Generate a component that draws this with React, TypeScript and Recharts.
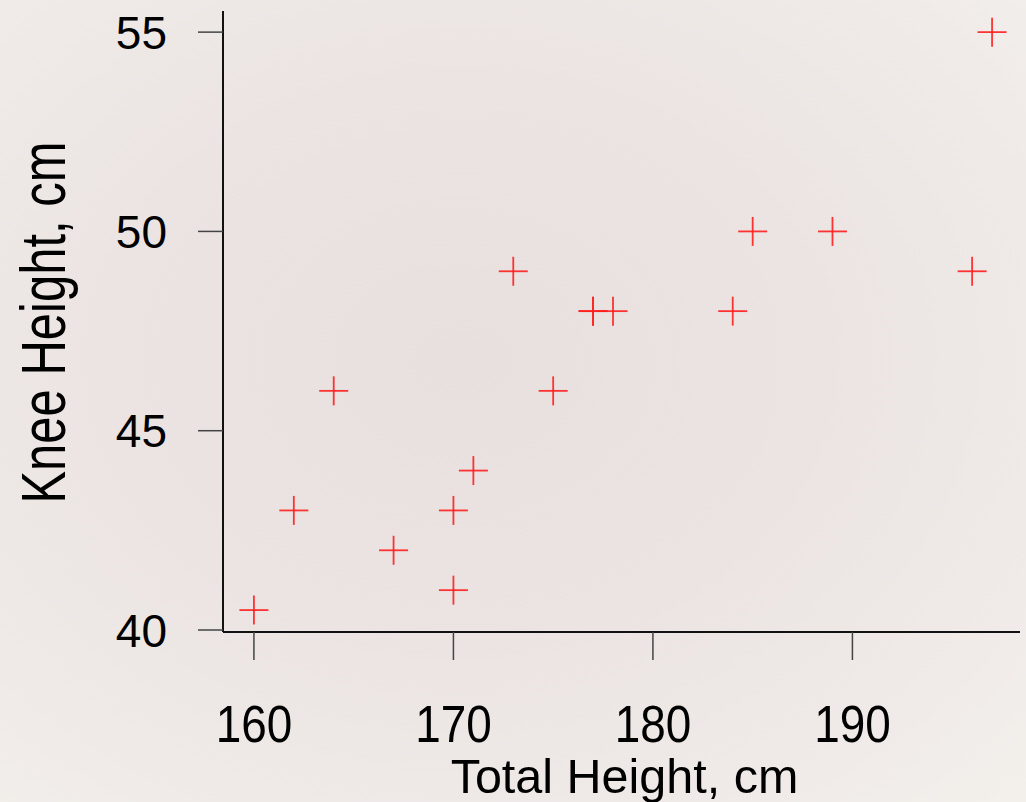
import { ScatterChart, Scatter, XAxis, YAxis } from "recharts";

// total height (cm) and knee height (cm)
const totalHeight = [160, 162, 164, 167, 170, 170, 171, 173, 175, 177, 177, 178, 184, 185, 189, 196, 197];
const kneeHeight = [40.5, 43, 46, 42, 43, 41, 44, 49, 46, 48, 48, 48, 48, 50, 50, 49, 55];

const xTicks = [160, 170, 180, 190];
const yTicks = [40, 45, 50, 55];

const points = totalHeight.map((h, i) => ({ total: h, knee: kneeHeight[i] }));

const FONT = "'Liberation Sans', Arial, Helvetica, sans-serif";

const Plus = (props: any) => {
  const { cx, cy } = props;
  const r = 14.5;
  return (
    <g stroke="#ff1f1f" strokeWidth={1.8} strokeOpacity={0.9}>
      <line x1={cx - r} y1={cy} x2={cx + r} y2={cy} />
      <line x1={cx} y1={cy - r} x2={cx} y2={cy + r} />
    </g>
  );
};

const XTick = (props: any) => {
  const { x, y, payload } = props;
  // y is the top of the label area; shift down to the baseline
  return (
    <text
      transform={`translate(${x}, ${y + 37}) scale(0.9, 1)`}
      textAnchor="middle"
      fontFamily={FONT}
      fontSize={51}
      fill="#000"
    >
      {payload.value}
    </text>
  );
};

const YTick = (props: any) => {
  const { x, y, payload } = props;
  return (
    <text x={x} y={y} dy={16.5} textAnchor="end" fontFamily={FONT} fontSize={46} fill="#000">
      {payload.value}
    </text>
  );
};

const XTitle = (props: any) => {
  const { viewBox } = props;
  return (
    <text
      x={viewBox.x + viewBox.width / 2 + 3}
      y={viewBox.y + viewBox.height - 9}
      textAnchor="middle"
      fontFamily={FONT}
      fontSize={48.5}
      fill="#000"
    >
      Total Height, cm
    </text>
  );
};

const YTitle = (props: any) => {
  const { viewBox } = props;
  const cy = viewBox.y + viewBox.height / 2 + 1;
  return (
    <text
      transform={`translate(65, ${cy}) rotate(-90) scale(1, 1.3)`}
      textAnchor="middle"
      fontFamily={FONT}
      fontSize={49}
      fill="#000"
    >
      Knee Height, cm
    </text>
  );
};

export default function App() {
  return (
    <div
      style={{
        position: "absolute",
        left: 0,
        top: 0,
        width: 1026,
        height: 802,
        background:
          "radial-gradient(ellipse at 45% 45%, #e8e0de 0%, #ebe4e2 45%, #f0ebe8 80%, #f3f0ec 100%)",
      }}
    >
      <ScatterChart width={1026} height={802} margin={{ top: 11, right: 6, bottom: 0, left: 0 }}>
        <XAxis
          type="number"
          dataKey="total"
          domain={[158.45, 198.4]}
          ticks={xTicks}
          height={170}
          tickSize={28}
          tickMargin={45}
          tick={<XTick />}
          axisLine={{ stroke: "#111", strokeWidth: 2 }}
          tickLine={{ stroke: "#444", strokeWidth: 1.5 }}
          label={<XTitle />}
          allowDataOverflow
        />
        <YAxis
          type="number"
          dataKey="knee"
          domain={[39.95, 55.53]}
          ticks={yTicks}
          width={223}
          tickSize={25}
          tickMargin={31}
          tick={<YTick />}
          axisLine={{ stroke: "#111", strokeWidth: 2 }}
          tickLine={{ stroke: "#444", strokeWidth: 1.5 }}
          label={<YTitle />}
          allowDataOverflow
        />
        <Scatter data={points} shape={<Plus />} isAnimationActive={false} />
      </ScatterChart>
    </div>
  );
}
